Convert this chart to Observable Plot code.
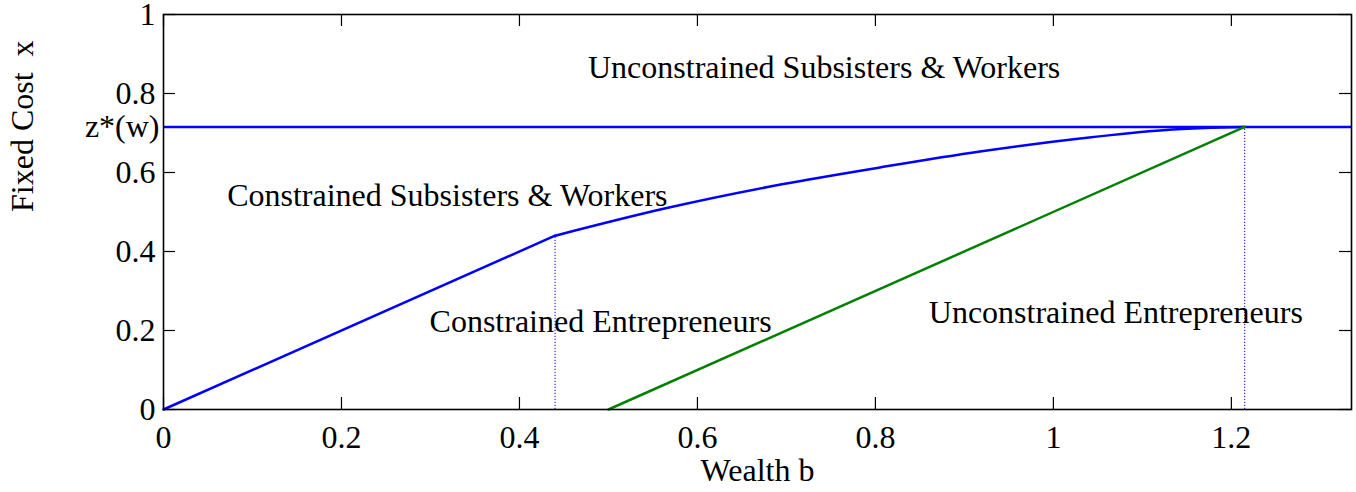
<!DOCTYPE html>
<html>
<head>
<meta charset="utf-8">
<script src="https://cdn.jsdelivr.net/npm/d3@7"></script>
<script src="https://cdn.jsdelivr.net/npm/@observablehq/plot@0.6"></script>
<style>
  html, body { margin: 0; padding: 0; background: #fff; }
  svg { overflow: visible; }
</style>
</head>
<body>
<div id="chart"></div>
<script>
// ---- data ----
const xTicks = [0, 0.2, 0.4, 0.6, 0.8, 1, 1.2];
const yTicks = [0, 0.2, 0.4, 0.6, 0.8, 1];
const zStar = 0.7154;
const zStarLabel = "z*(w)";

// constrained boundary: linear part
const linB = [0, 0.44];
const linX = [0, 0.44];
// constrained boundary: concave part
const curveB = [0.44, 0.5655, 0.6965, 0.8051, 0.9175, 1.0299, 1.1235, 1.17, 1.215];
const curveX = [0.44, 0.510, 0.5707, 0.6128, 0.6532, 0.6861, 0.7071, 0.7125, 0.7154];
// unconstrained entrepreneurs boundary (green)
const greenB = [0.5, 1.215];
const greenX = [0, 0.7154];
// dotted verticals
const dotB = [0.44, 1.215];
const dotTop = [0.44, 0.7154];

// region labels
const labelText = ["Unconstrained Subsisters & Workers", "Constrained Subsisters & Workers", "Constrained Entrepreneurs", "Unconstrained Entrepreneurs"];
const labelB = [0.477, 0.0715, 0.299, 0.860];
const labelX = [0.864, 0.541, 0.222, 0.246];

// ---- build ----
const W = 1356, H = 492;
const mL = 163, mR = 5, mT = 14, mB = 83;
const innerH = H - mT - mB, innerW = W - mL - mR;
const tick = 12;
const font = "'Liberation Serif', 'Times New Roman', Times, serif";

const lin = linB.map((b, i) => ({b, x: linX[i]}));
const curve = curveB.map((b, i) => ({b, x: curveX[i]}));
const green = greenB.map((b, i) => ({b, x: greenX[i]}));
const dots = dotB.map((b, i) => ({b, top: dotTop[i]}));
const labels = labelText.map((t, i) => ({t, b: labelB[i], x: labelX[i]}));

const chart = Plot.plot({
  width: W, height: H,
  marginLeft: mL, marginRight: mR, marginTop: mT, marginBottom: mB,
  style: {fontFamily: font, fontSize: "32px", background: "#fff", color: "#000", overflow: "visible"},
  x: {domain: [0, 1.335]},
  y: {domain: [0, 1]},
  marks: [
    // dotted verticals
    Plot.ruleX(dots, {x: "b", y1: 0, y2: "top", stroke: "#0000ff", strokeWidth: 1, strokeDasharray: "1.2,1.8"}),
    // z* horizontal
    Plot.ruleY([zStar], {stroke: "#0000ff", strokeWidth: 2.5}),
    // curves
    Plot.line(lin, {x: "b", y: "x", stroke: "#0000ff", strokeWidth: 2.5}),
    Plot.line(curve, {x: "b", y: "x", stroke: "#0000ff", strokeWidth: 2.5, curve: "monotone-x"}),
    Plot.line(green, {x: "b", y: "x", stroke: "#008000", strokeWidth: 2.5}),
    // inward ticks
    Plot.ruleX(xTicks, {x: d => d, insetTop: innerH - tick, stroke: "#000", strokeWidth: 1.2}),
    Plot.ruleX(xTicks, {x: d => d, insetBottom: innerH - tick, stroke: "#000", strokeWidth: 1.2}),
    Plot.ruleY(yTicks, {y: d => d, insetRight: innerW - tick, stroke: "#000", strokeWidth: 1.2}),
    Plot.ruleY(yTicks, {y: d => d, insetLeft: innerW - tick, stroke: "#000", strokeWidth: 1.2}),
    Plot.frame({stroke: "#000", strokeWidth: 1.6}),
    // axes labels
    Plot.axisX({ticks: xTicks, tickSize: 0, tickPadding: 16, label: null, tickFormat: d => String(d)}),
    Plot.axisY({ticks: yTicks, tickSize: 0, tickPadding: 8, label: null, tickFormat: d => String(d)}),
    Plot.axisY({ticks: [zStar], tickSize: 0, tickPadding: 4, label: null, tickFormat: () => zStarLabel}),
    // region labels
    Plot.text(labels, {x: "b", y: "x", text: "t", textAnchor: "start", lineAnchor: "middle", fill: "#000"}),
    // axis titles
    Plot.text(["Wealth b"], {frameAnchor: "bottom", dy: 61, lineAnchor: "middle", fill: "#000"}),
    Plot.text(["Fixed Cost\u00a0\u00a0x"], {frameAnchor: "left", dx: -141, rotate: -90, lineAnchor: "middle", fill: "#000"})
  ]
});
document.getElementById("chart").appendChild(chart);
</script>
</body>
</html>
